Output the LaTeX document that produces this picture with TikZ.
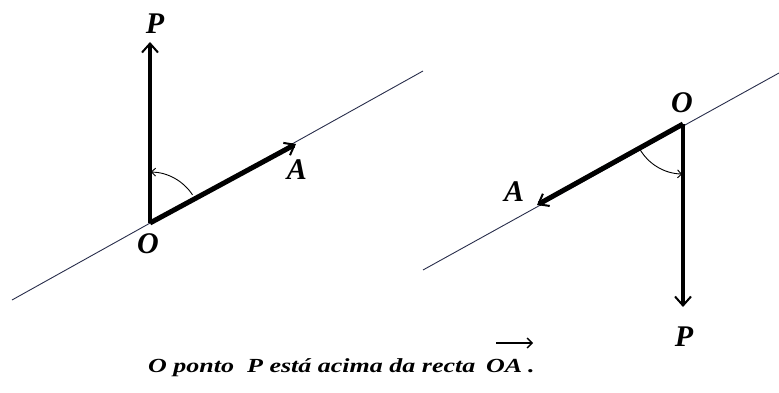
\documentclass[tikz,border=0pt]{standalone}
\usepackage{fontspec}
\setmainfont{Liberation Serif}
\newfontfamily\capfont[FakeStretch=1.3]{Liberation Serif}
\usetikzlibrary{arrows.meta,calc}
\definecolor{linecol}{RGB}{40,45,75}
\tikzset{
  ruleline/.style={draw=linecol, line width=0.9pt},
  vecthin/.style={draw=black, line width=3.6pt, -{Straight Barb[length=9pt,width=16pt,line width=2pt]}},
  vecthick/.style={draw=black, line width=5pt, -{Straight Barb[length=9pt,width=14pt,line width=2pt]}},
  anglearc/.style={draw=black, line width=0.9pt, -{Straight Barb[length=4pt,width=8pt]}},
  overarrow/.style={draw=black, line width=1.6pt, -{Straight Barb[length=5pt,width=10pt,line width=1.4pt]}},
  lbl/.style={font=\fontsize{30}{33}\selectfont\bfseries\itshape, inner sep=0pt},
  captiontext/.style={font=\capfont\fontsize{20}{24}\selectfont\bfseries\itshape, inner sep=0pt}
}
\begin{document}
\begin{tikzpicture}[x=1pt,y=-1pt]
\useasboundingbox (0,0) rectangle (779,393);
% left figure
\coordinate (L1) at (12,300);
\coordinate (L2) at (423,71);
\coordinate (O1) at (150,223);
\coordinate (P1) at (150,42);
\coordinate (A1) at (296,144);
\draw[ruleline] (L1) -- (L2);
\draw[vecthin] (O1) -- (P1);
\draw[vecthick] (O1) -- (A1);
\draw[anglearc] ($(O1)+(-33.5:51)$) arc[start angle=-33.5, end angle=-89, radius=51];
\node[lbl] (lP1) at (155,24) {P};
\node[lbl] (lO1) at (148,244) {O};
\node[lbl] (lA1) at (297,170) {A};
% right figure
\coordinate (R1) at (423,270);
\coordinate (R2) at (779,73);
\coordinate (O2) at (683,124);
\coordinate (P2) at (683,307);
\coordinate (A2) at (537,205);
\draw[ruleline] (R1) -- (R2);
\draw[vecthin] (O2) -- (P2);
\draw[vecthick] (O2) -- (A2);
\draw[anglearc] ($(O2)+(151:50)$) arc[start angle=151, end angle=91, radius=50];
\node[lbl] (lO2) at (682,103) {O};
\node[lbl] (lA2) at (514,192) {A};
\node[lbl] (lP2) at (684,337) {P};
% caption
\node[captiontext, anchor=base west] (captxt) at (148,372) {O ponto\ \ P está acima da recta};
\node[captiontext, anchor=base west] (oa) at (486,372) {OA};
\node[captiontext, anchor=base west] (dot) at (528,372) {.};
\coordinate (arrS) at (496,343);
\coordinate (arrE) at (533,343);
\draw[overarrow] (arrS) -- (arrE);
\end{tikzpicture}
\end{document}
